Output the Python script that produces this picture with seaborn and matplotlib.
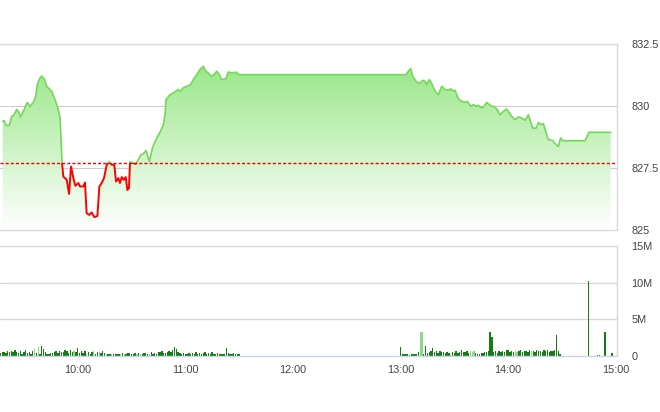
import numpy as np
import pandas as pd
import matplotlib
matplotlib.use("Agg")
import matplotlib.pyplot as plt
from matplotlib.patches import Rectangle
from matplotlib.colors import LinearSegmentedColormap
import seaborn as sns

# intraday index price
price_times = [
    "09:18:12", "09:19:06", "09:20:00", "09:21:54", "09:23:12", "09:24:30", "09:26:00", "09:26:54",
    "09:28:12", "09:29:42", "09:31:54", "09:33:24", "09:35:18", "09:36:36", "09:37:30", "09:39:00",
    "09:40:00", "09:41:24", "09:42:42", "09:45:30", "09:47:24", "09:49:12", "09:50:12", "09:51:18",
    "09:52:00", "09:53:54", "09:55:12", "09:56:18", "09:57:36", "09:58:42", "10:00:24", "10:01:18",
    "10:03:06", "10:04:06", "10:05:00", "10:06:30", "10:07:48", "10:09:18", "10:11:00", "10:12:06",
    "10:13:24", "10:14:42", "10:16:12", "10:17:36", "10:19:00", "10:20:24", "10:21:24", "10:22:42",
    "10:23:36", "10:24:36", "10:25:48", "10:26:48", "10:27:42", "10:28:36", "10:29:12", "10:30:42",
    "10:32:30", "10:33:48", "10:35:12", "10:36:36", "10:38:06", "10:40:00", "10:41:48", "10:44:06",
    "10:45:54", "10:47:48", "10:48:42", "10:49:18", "10:51:30", "10:53:18", "10:56:06", "10:57:06",
    "10:58:54", "11:00:48", "11:03:00", "11:04:30", "11:06:24", "11:08:12", "11:10:06", "11:11:24",
    "11:12:48", "11:14:12", "11:16:00", "11:17:30", "11:19:00", "11:20:18", "11:22:42", "11:24:00",
    "11:25:54", "11:28:18", "11:30:00",
    "13:03:06", "13:04:24", "13:05:42", "13:06:48", "13:08:42", "13:10:30", "13:12:24", "13:13:42",
    "13:14:36", "13:16:06", "13:17:24", "13:19:18", "13:21:06", "13:23:00", "13:24:48", "13:26:42",
    "13:28:00", "13:29:30", "13:30:24", "13:32:18", "13:34:06", "13:36:00", "13:37:18", "13:39:12",
    "13:40:36", "13:42:06", "13:43:24", "13:45:18", "13:46:36", "13:48:06", "13:49:30", "13:50:54",
    "13:52:12", "13:53:42", "13:55:30", "13:57:24", "13:59:12", "14:00:06", "14:02:00", "14:03:54",
    "14:05:42", "14:07:36", "14:09:24", "14:11:18", "14:12:12", "14:13:42", "14:15:36", "14:16:54",
    "14:18:12", "14:19:42", "14:21:12", "14:22:24", "14:24:54", "14:26:12", "14:28:00", "14:29:18",
    "14:30:30", "14:43:00", "14:45:00", "14:57:12",
]
price_values = [
    829.39, 829.42, 829.23, 829.23, 829.59, 829.66, 829.87, 829.80,
    829.57, 829.80, 830.16, 830.00, 830.16, 830.41, 830.88, 831.15,
    831.22, 831.11, 830.81, 830.61, 830.27, 829.87, 829.53, 827.71,
    827.16, 827.03, 826.46, 827.57, 827.10, 826.79, 826.90, 826.76,
    826.76, 826.92, 825.68, 825.61, 825.71, 825.52, 825.57, 826.76,
    826.90, 827.10, 827.64, 827.77, 827.64, 827.64, 826.96, 827.10,
    826.90, 827.14, 827.03, 827.14, 826.62, 826.69, 827.77, 827.71,
    827.68, 827.84, 828.04, 828.08, 828.22, 827.77, 828.35, 828.72,
    828.95, 829.26, 829.66, 830.27, 830.47, 830.54, 830.68, 830.61,
    830.75, 830.81, 830.88, 831.08, 831.28, 831.49, 831.62, 831.42,
    831.35, 831.22, 831.28, 831.42, 831.28, 831.08, 831.12, 831.39,
    831.35, 831.38, 831.28,
    831.28, 831.42, 831.53, 831.22, 831.01, 830.92, 831.05, 831.01,
    830.88, 831.08, 830.92, 830.61, 830.47, 830.81, 830.68, 830.65,
    830.71, 830.61, 830.65, 830.30, 830.20, 830.16, 830.20, 830.00,
    830.07, 830.00, 830.04, 829.94, 830.00, 830.16, 830.07, 830.00,
    830.00, 829.89, 829.66, 829.80, 829.89, 829.80, 829.59, 829.46,
    829.57, 829.53, 829.43, 829.66, 829.46, 829.12, 829.12, 829.35,
    829.26, 829.30, 828.92, 828.65, 828.62, 828.49, 828.38, 828.72,
    828.61, 828.61, 828.95, 828.95,
]
ref_price = 827.7

# volume per minute, millions of shares
vol_am_start = "09:17"
vol_am = [
    0.35, 0.45, 0.5, 0.4, 0.7, 0.55, 0.6, 0.45, 0.75, 0.5,
    0.4, 0.6, 0.3, 0.55, 0.8, 0.35, 0.5, 0.25, 0.65, 0.9,
    0.4, 1.25, 0.3, 1.4, 0.9, 0.5, 0.3, 0.25, 0.4, 0.35,
    0.5, 0.6, 0.4, 0.7, 0.55, 0.45, 0.8, 0.6, 0.35, 0.75,
    0.5, 0.65, 0.45, 1.1, 0.4, 0.7, 0.35, 0.6, 0.3, 0.5,
    0.25, 0.55, 0.6, 0.3, 0.45, 0.5, 0.35, 0.6, 0.4, 0.3,
    0.25, 0.3, 0.2, 0.25, 0.3, 0.2, 0.25, 0.3, 0.35, 0.25,
    0.3, 0.35, 0.4, 0.3, 0.25, 0.4, 0.3, 0.35, 0.2, 0.3,
    0.35, 0.4, 0.3, 0.25, 0.45, 0.3, 0.4, 0.3, 0.55, 0.45,
    0.6, 0.4, 0.35, 0.5, 0.7, 0.45, 0.85, 1.2, 0.9, 0.55,
    0.4, 0.3, 0.35, 0.25, 0.3, 0.4, 0.3, 0.35, 0.25, 0.45,
    0.3, 0.4, 0.25, 0.35, 0.5, 0.3, 0.4, 0.3, 0.45, 0.25,
    0.3, 0.35, 0.2, 0.25, 0.3, 0.2, 1.0, 0.35, 0.25, 0.3,
    0.4, 0.25, 0.3, 0.2,
]
vol_pm_start = "13:00"
vol_pm = [
    1.2, 0.3, 0.2, 0.25, 0.2, 0.15, 0.25, 0.2, 0.3, 0.25,
    0.5, 3.2, 3.2, 0.3, 1.4, 0.4, 0.5, 0.6, 1.0, 0.5,
    0.7, 0.4, 0.6, 0.5, 0.45, 0.35, 0.5, 0.4, 0.3, 0.45,
    0.35, 0.6, 0.4, 0.5, 0.8, 0.45, 0.55, 0.7, 0.4, 0.6,
    0.5, 0.6, 0.35, 0.3, 0.25, 0.4, 0.35, 0.5, 0.45, 0.6,
    3.2, 2.6, 0.5, 0.6, 0.4, 0.7, 0.55, 0.6, 0.5, 0.75,
    0.8, 0.5, 0.6, 0.45, 0.7, 0.5, 0.6, 0.8, 0.55, 0.7,
    0.6, 0.5, 0.75, 0.6, 0.7, 0.55, 0.8, 0.6, 0.7, 0.5,
    0.75, 0.6, 0.8, 0.55, 0.7, 0.6, 0.75, 2.9, 0.6, 0.3,
]
vol_close_times = ["14:45", "14:50", "14:51", "14:54", "14:58"]
vol_close = [10.3, 0.1, 0.1, 3.3, 0.4]
light_bars = ["09:36", "09:38", "09:58", "10:05", "10:09", "10:12", "10:16", "10:19",
              "10:24", "10:26", "10:33", "10:35", "10:40", "13:11", "13:12", "13:28",
              "13:39", "13:40", "13:41", "14:04", "14:05", "14:13"]

price_ticks = [825, 827.5, 830, 832.5]
price_labels = ["825", "827.5", "830", "832.5"]
vol_ticks = [0, 5, 10, 15]
vol_labels = ["0", "5M", "10M", "15M"]
hour_labels = ["10:00", "11:00", "12:00", "13:00", "14:00", "15:00"]


def to_min(s):
    parts = [int(p) for p in s.split(":")]
    m = parts[0] * 60 + parts[1]
    if len(parts) == 3:
        m += parts[2] / 60
    return m


price = pd.DataFrame({"t": [to_min(s) for s in price_times], "p": price_values})

vt = [to_min(vol_am_start) + i for i in range(len(vol_am))]
vt += [to_min(vol_pm_start) + i for i in range(len(vol_pm))]
vt += [to_min(s) for s in vol_close_times]
light_set = set(to_min(s) for s in light_bars)
vol = pd.DataFrame({"t": vt, "v": vol_am + vol_pm + vol_close})
vol["color"] = ["#8fd68a" if t in light_set else "#147d14" for t in vol["t"]]

sns.set_style("white")
plt.rcParams["font.family"] = ["Liberation Sans", "DejaVu Sans"]

xmin, xmax = 556.7, 900.7
frame = "#d9d9d9"
text_c = "#444444"

fig = plt.figure(figsize=(6.6, 4.12), dpi=100)
ax1 = fig.add_axes([0, 0.4417, 0.9348, 0.4503])
ax2 = fig.add_axes([0, 0.1366, 0.9348, 0.2651])

# price panel
ax1.set_xlim(xmin, xmax)
ax1.set_ylim(825, 832.5)
for v in [827.5, 830]:
    ax1.axhline(v, color="#cccccc", lw=0.8, zorder=0)

poly = ax1.fill_between(price["t"], price["p"], 825, facecolor="none", edgecolor="none")
cmap = LinearSegmentedColormap.from_list("g", ["#ffffff", "#8de47a"])
grad = np.linspace(0, 1, 256).reshape(-1, 1)
im = ax1.imshow(grad, extent=[xmin, xmax, 825, 832.5], origin="lower", aspect="auto",
                cmap=cmap, zorder=1)
im.set_clip_path(poly.get_paths()[0], transform=ax1.transData)

sns.lineplot(data=price, x="t", y="p", ax=ax1, color="#74d858", lw=1.2,
             estimator=None, sort=False, zorder=3)
sns.lineplot(data=price, x="t", y="p", ax=ax1, color="#ff0000", lw=1.4,
             estimator=None, sort=False, zorder=3)
up, down = ax1.lines[-2], ax1.lines[-1]
up.set_clip_path(Rectangle((xmin, ref_price), xmax - xmin, 10, transform=ax1.transData))
down.set_clip_path(Rectangle((xmin, 815), xmax - xmin, ref_price - 815, transform=ax1.transData))

ax1.axhline(ref_price, color="#ee0000", lw=1.0, dashes=(2.2, 1.5), zorder=4)

ax1.set_xlim(xmin, xmax)
ax1.set_ylim(825, 832.5)
ax1.set_xlabel("")
ax1.set_ylabel("")
ax1.set_xticks([])
ax1.yaxis.tick_right()
ax1.set_yticks(price_ticks)
ax1.set_yticklabels(price_labels)
ax1.tick_params(axis="y", length=0, pad=10.5, labelsize=7.8, labelcolor=text_c)
for lbl in ax1.get_yticklabels():
    lbl.set_horizontalalignment("left")
ax1.spines["left"].set_visible(False)
for s in ["top", "right", "bottom"]:
    ax1.spines[s].set_color(frame)
    ax1.spines[s].set_linewidth(1.0)

# volume panel
ax2.bar(vol["t"], vol["v"], width=0.75, color=vol["color"], linewidth=0, zorder=2)
ax2.set_xlim(xmin, xmax)
ax2.set_ylim(0, 15)
for v in [5, 10]:
    ax2.axhline(v, color=frame, lw=1.0, zorder=0)
ax2.yaxis.tick_right()
ax2.set_yticks(vol_ticks)
ax2.set_yticklabels(vol_labels)
ax2.tick_params(axis="y", length=0, pad=10.5, labelsize=7.8, labelcolor=text_c)
for lbl in ax2.get_yticklabels():
    lbl.set_horizontalalignment("left")
ax2.set_xticks([to_min(s) for s in hour_labels])
ax2.set_xticklabels(hour_labels)
ax2.tick_params(axis="x", length=5, width=0.8, color="#ccd6eb", pad=2,
                labelsize=7.8, labelcolor=text_c)
ax2.spines["left"].set_visible(False)
ax2.spines["top"].set_color(frame)
ax2.spines["right"].set_color(frame)
ax2.spines["bottom"].set_color("#ccd6eb")
for s in ["top", "right", "bottom"]:
    ax2.spines[s].set_linewidth(1.0)

fig.savefig("out.png", dpi=100)
